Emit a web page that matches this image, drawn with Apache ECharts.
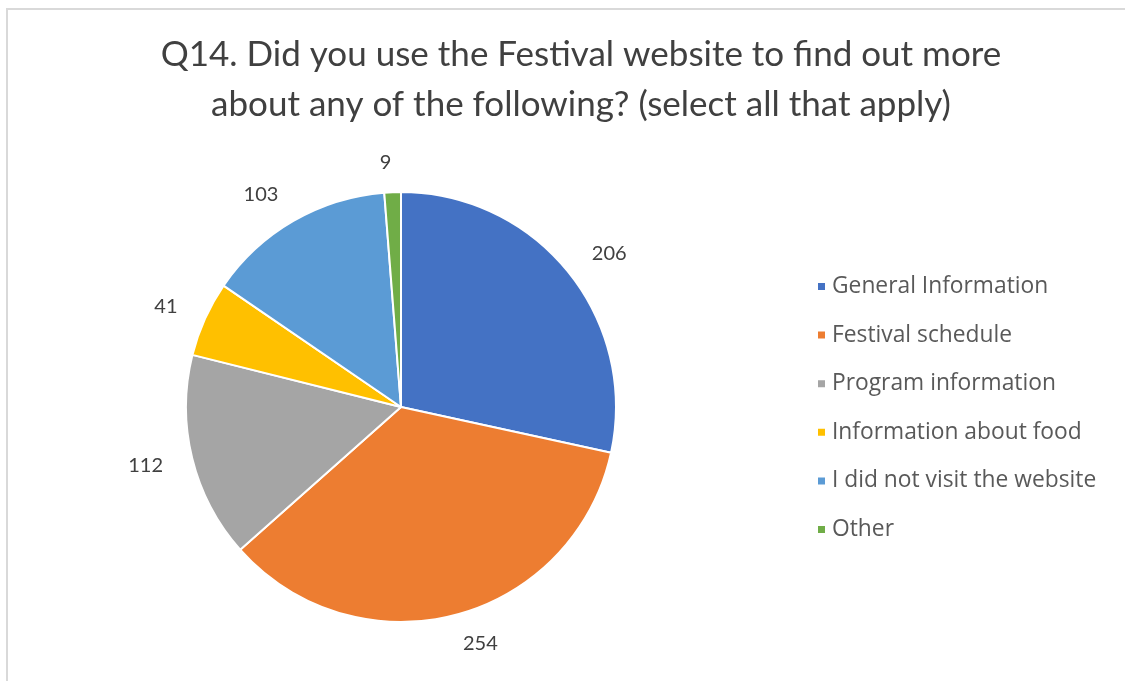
<!DOCTYPE html>
<html>
<head>
<meta charset="utf-8">
<script src="https://cdn.jsdelivr.net/npm/echarts@6/dist/echarts.min.js"></script>
<style>
  html, body { margin: 0; padding: 0; background: #fff; }
  #chart { width: 1125px; height: 681px; }
</style>
</head>
<body>
<div id="chart"></div>
<script>
// Survey responses for Q14
const categories = [
  'General Information',
  'Festival schedule',
  'Program information',
  'Information about food',
  'I did not visit the website',
  'Other'
];
const responses = [206, 254, 112, 41, 103, 9];
const sliceColors = ['#4472C4', '#ED7D31', '#A5A5A5', '#FFC000', '#5B9BD5', '#70AD47'];

const titleText = 'Q14. Did you use the Festival website to find out more\nabout any of the following? (select all that apply)';

const chart = echarts.init(document.getElementById('chart'), null, { renderer: 'canvas' });

chart.setOption({
  animation: false,
  backgroundColor: '#ffffff',
  color: sliceColors,
  graphic: [{
    type: 'rect',
    shape: { x: 7, y: 9, width: 1140, height: 700 },
    style: { fill: 'none', stroke: '#d9d9d9', lineWidth: 2 },
    silent: true,
    z: -1
  }],
  title: {
    text: titleText,
    left: 576,
    top: 25,
    textAlign: 'center',
    textStyle: {
      fontFamily: 'Lato',
      fontSize: 35,
      fontWeight: 'normal',
      color: '#404040',
      lineHeight: 50
    }
  },
  legend: {
    orient: 'vertical',
    left: 811,
    top: 270,
    itemWidth: 9,
    itemHeight: 9,
    itemGap: 25.6,
    icon: 'rect',
    textStyle: {
      fontFamily: 'Open Sans',
      fontSize: 22.8,
      color: '#595959',
      padding: [0, 0, 0, 1]
    },
    data: categories
  },
  series: [{
    type: 'pie',
    center: [401, 407],
    radius: [0, 215],
    startAngle: 90,
    clockwise: true,
    avoidLabelOverlap: false,
    itemStyle: { borderColor: '#ffffff', borderWidth: 2 },
    label: {
      show: true,
      position: 'outside',
      formatter: '{c}',
      fontFamily: 'Lato',
      fontSize: 20,
      color: '#404040',
      distanceToLabelLine: 0
    },
    labelLine: { show: false, length: 30, length2: 0 },
    emphasis: { disabled: true },
    data: categories.map((name, i) => ({ name, value: responses[i] }))
  }]
});
</script>
</body>
</html>
